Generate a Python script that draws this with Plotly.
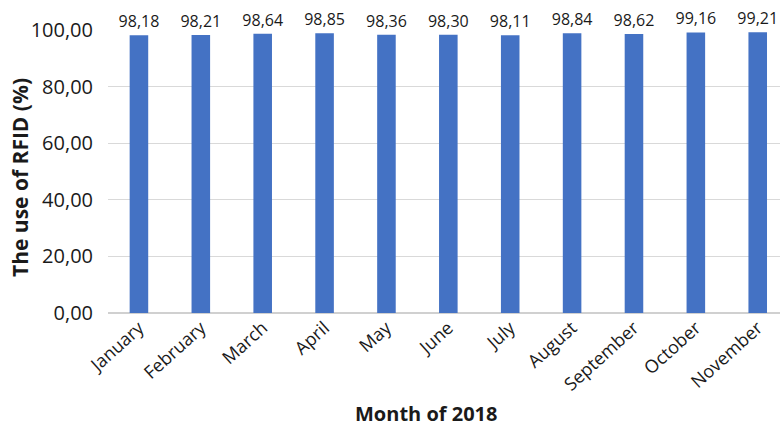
import plotly.graph_objects as go

months = ["January", "February", "March", "April", "May", "June", "July",
          "August", "September", "October", "November"]
rfid_use = [98.18, 98.21, 98.64, 98.85, 98.36, 98.30, 98.11, 98.84, 98.62, 99.16, 99.21]
y_ticks = [0, 20, 40, 60, 80, 100]

FONT = "Open Sans, Noto Sans, sans-serif"

fig = go.Figure(go.Bar(
    x=months, y=rfid_use,
    marker=dict(color="#4472c4", line=dict(width=0)),
    width=0.3,
    text=rfid_use, texttemplate="%{y:.2f}", textposition="outside",
    outsidetextfont=dict(family=FONT, size=16, color="#1a1a1a"),
    constraintext="none",
    cliponaxis=False,
))

pw = 780 - 108
ph = 429 - 30 - 116

fig.update_layout(
    width=780, height=429,
    margin=dict(l=108, r=0, t=30, b=116),
    paper_bgcolor="white", plot_bgcolor="white",
    separators=", ",
    showlegend=False,
    font=dict(family=FONT, color="#1a1a1a"),
    xaxis=dict(
        range=[-0.5, 10.36], tickangle=-42, tickfont=dict(size=18),
        showgrid=False, showline=False, ticks="",
    ),
    yaxis=dict(
        range=[0, 100], tickvals=y_ticks, tickformat=".2f",
        tickfont=dict(size=20), showgrid=True, gridcolor="#d9d9d9", gridwidth=1,
        zeroline=True, zerolinecolor="#d0d0d0", zerolinewidth=2,
        ticks="", ticklen=0, ticklabelstandoff=14,
    ),
    annotations=[
        dict(text="<b>Month of 2018</b>", xref="paper", yref="paper",
             x=(426 - 108) / pw, y=-(413 - 313) / ph, xanchor="center", yanchor="middle",
             showarrow=False, font=dict(size=20)),
        dict(text="<b>The use of RFID (%)</b>", textangle=-90, xref="paper", yref="paper",
             x=(20 - 108) / pw, y=(313 - 178) / ph, xanchor="center", yanchor="middle",
             showarrow=False, font=dict(size=21)),
    ],
)

fig.write_html("out.html")
